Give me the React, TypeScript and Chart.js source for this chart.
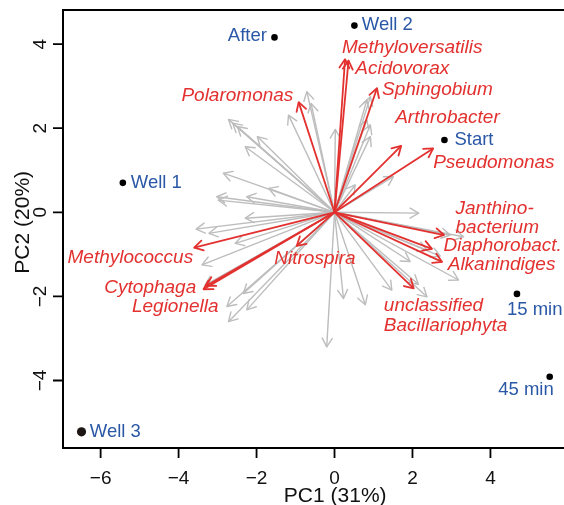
import React, { useEffect, useRef } from "react";
import { Chart, registerables } from "chart.js";

Chart.register(...registerables);

// ---- data ----
const sampleNames = ["After", "Well 2", "Start", "Well 1", "Well 3", "15 min", "45 min"];
const sampleX = [-1.54, 0.51, 2.82, -5.43, -6.49, 4.68, 5.52];
const sampleY = [4.16, 4.44, 1.72, 0.70, -5.22, -1.94, -3.91];

const taxaNames = [
  "Polaromonas",
  "Methyloversatilis",
  "Acidovorax",
  "Sphingobium",
  "Arthrobacter",
  "Pseudomonas",
  "Janthino-\nbacterium",
  "Diaphorobact.",
  "Alkanindiges",
  "unclassified\nBacillariophyta",
  "Nitrospira",
  "Methylococcus",
  "Cytophaga",
  "Legionella",
];
const taxaX = [-0.92, 0.27, 0.36, 1.09, 1.71, 2.53, 2.81, 2.50, 2.76, 2.03, -0.97, -3.60, -3.36, -3.29];
const taxaY = [2.62, 3.64, 3.61, 2.95, 1.58, 1.52, -0.54, -0.87, -1.18, -1.81, -0.80, -0.84, -1.83, -1.75];

const otherX = [
  -0.71, -0.60, -1.18, -2.72, -2.61, -2.49, -1.98, -2.29, -2.85, -1.69, -3.02, -2.98, -2.25, -3.55, -3.22,
  -2.29, -2.55, -3.40, -2.34, -2.76, -2.25, -2.72, -0.20, 0.23, 0.79, 1.47, 2.37, 3.18, 1.94, 2.37, 2.97,
  3.31, 2.16, 1.51, 0.92, 0.83, 0.83, 0.92, 0.92, 0.02, -3.32, 0.53, 2.15, 2.71,
];
const otherY = [
  2.87, 2.59, 2.31, 2.21, 2.12, 2.04, 1.80, 1.56, 0.93, 0.57, 0.37, 0.29, 0.37, -0.40, -0.50,
  -0.14, -0.74, -1.25, -1.93, -2.24, -2.32, -2.60, -3.20, -2.05, -2.20, -1.85, -2.01, -1.61, -1.17, -0.90, -0.54,
  -0.58, -0.02, 0.85, 2.75, 2.67, 2.20, 2.08, 1.80, 1.97, -1.73, 0.65, -1.71, -1.04,
];

const xTicks = [-6, -4, -2, 0, 2, 4];
const yTicks = [-4, -2, 0, 2, 4];
const xTitle = "PC1 (31%)";
const yTitle = "PC2 (20%)";

// ---- style / layout ----
const X_MIN = -6.965;
const X_MAX = 5.769;
const Y_MIN = -5.605;
const Y_MAX = 4.811;

const RED = "#E2312F";
const BLUE = "#2A58A6";
const GRAY = "#BDBDBD";
const FONT = '"Liberation Sans", Arial, Helvetica, sans-serif';

type LabelStyle = { align: CanvasTextAlign; dx: number; dy: number };

const sampleLabelStyle: Record<string, LabelStyle> = {
  "After": { align: "right", dx: -7.6, dy: -1 },
  "Well 2": { align: "left", dx: 7.4, dy: -0.7 },
  "Start": { align: "left", dx: 10, dy: 0 },
  "Well 1": { align: "left", dx: 8, dy: 0 },
  "Well 3": { align: "left", dx: 8.3, dy: 0 },
  "15 min": { align: "left", dx: -10, dy: 16 },
  "45 min": { align: "right", dx: 4, dy: 13.3 },
};

const taxaLabelStyle: Record<string, LabelStyle> = {
  "Polaromonas": { align: "right", dx: -5.3, dy: -6 },
  "Methyloversatilis": { align: "left", dx: -3, dy: -12 },
  "Acidovorax": { align: "left", dx: 6.7, dy: 8.5 },
  "Sphingobium": { align: "left", dx: 5, dy: 1.5 },
  "Arthrobacter": { align: "left", dx: -6, dy: -27.7 },
  "Pseudomonas": { align: "left", dx: 0, dy: 14.4 },
  "Janthino-\nbacterium": { align: "left", dx: 11.5, dy: -26.7 },
  "Diaphorobact.": { align: "left", dx: 11.6, dy: -3.5 },
  "Alkanindiges": { align: "left", dx: 5.6, dy: 2.3 },
  "unclassified\nBacillariophyta": { align: "left", dx: -29.8, dy: 17.7 },
  "Nitrospira": { align: "left", dx: -22.4, dy: 12.3 },
  "Methylococcus": { align: "right", dx: -1, dy: 10 },
  "Cytophaga": { align: "right", dx: -7.3, dy: -1.3 },
  "Legionella": { align: "right", dx: 12.3, dy: 20.7 },
};

const SAMPLE_FONT_SIZE = 18.5;
const TAXA_FONT_SIZE = 19;
const LINE_GAP = 19.5;

const biplotPlugin = {
  id: "biplot",
  afterDatasetDraw(chart: any, args: any) {
    const ds = chart.data.datasets[args.index];
    if (!ds.arrow) return;
    const pts = args.meta.data;
    if (!pts || pts.length < 2) return;
    const p0 = pts[0];
    const p1 = pts[1];
    const ang = Math.atan2(p1.y - p0.y, p1.x - p0.x);
    const len = 10;
    const spread = Math.PI / 6;
    const ctx = chart.ctx;
    ctx.save();
    ctx.strokeStyle = ds.borderColor;
    ctx.lineWidth = ds.borderWidth;
    ctx.lineCap = "round";
    ctx.lineJoin = "round";
    ctx.beginPath();
    ctx.moveTo(p1.x - len * Math.cos(ang - spread), p1.y - len * Math.sin(ang - spread));
    ctx.lineTo(p1.x, p1.y);
    ctx.lineTo(p1.x - len * Math.cos(ang + spread), p1.y - len * Math.sin(ang + spread));
    ctx.stroke();
    ctx.restore();
  },
  afterDraw(chart: any) {
    const ctx = chart.ctx as CanvasRenderingContext2D;
    const area = chart.chartArea;
    const xs = chart.scales.x;
    const ys = chart.scales.y;
    const W = chart.width;

    ctx.save();
    // frame (left, top, bottom)
    ctx.strokeStyle = "#000";
    ctx.lineWidth = 2;
    ctx.beginPath();
    ctx.moveTo(W + 2, area.top);
    ctx.lineTo(area.left, area.top);
    ctx.lineTo(area.left, area.bottom);
    ctx.lineTo(W + 2, area.bottom);
    ctx.stroke();

    // ticks
    ctx.lineWidth = 1.8;
    ctx.beginPath();
    xTicks.forEach((v) => {
      const px = xs.getPixelForValue(v);
      ctx.moveTo(px, area.bottom);
      ctx.lineTo(px, area.bottom + 10);
    });
    yTicks.forEach((v) => {
      const py = ys.getPixelForValue(v);
      ctx.moveTo(area.left, py);
      ctx.lineTo(area.left - 10, py);
    });
    ctx.stroke();

    // tick labels
    ctx.fillStyle = "#111";
    ctx.font = `19px ${FONT}`;
    ctx.textAlign = "center";
    ctx.textBaseline = "alphabetic";
    xTicks.forEach((v) => {
      const px = xs.getPixelForValue(v);
      ctx.fillText(v < 0 ? "\u2212" + Math.abs(v) : String(v), px, area.bottom + 35.5);
    });
    yTicks.forEach((v) => {
      const py = ys.getPixelForValue(v);
      ctx.save();
      ctx.translate(area.left - 17, py);
      ctx.rotate(-Math.PI / 2);
      ctx.fillText(v < 0 ? "\u2212" + Math.abs(v) : String(v), 0, 0);
      ctx.restore();
    });

    // axis titles
    ctx.font = `21px ${FONT}`;
    ctx.fillText(xTitle, xs.getPixelForValue(0) + 0.7, area.bottom + 53.5);
    ctx.save();
    ctx.translate(29, ys.getPixelForValue(0) + 10);
    ctx.rotate(-Math.PI / 2);
    ctx.fillText(yTitle, 0, 0);
    ctx.restore();

    // labels
    ctx.textBaseline = "middle";
    const drawLabel = (text: string, x: number, y: number, st: LabelStyle, color: string, italic: boolean) => {
      ctx.fillStyle = color;
      ctx.font = italic ? `italic ${TAXA_FONT_SIZE}px ${FONT}` : `${SAMPLE_FONT_SIZE}px ${FONT}`;
      ctx.textAlign = st.align;
      text.split("\n").forEach((line, i) => {
        ctx.fillText(line, x + st.dx, y + st.dy + i * LINE_GAP);
      });
    };

    chart.data.datasets.forEach((ds: any, i: number) => {
      const meta = chart.getDatasetMeta(i);
      if (ds.kind === "samples") {
        meta.data.forEach((pt: any, j: number) => {
          const name = sampleNames[j];
          drawLabel(name, pt.x, pt.y, sampleLabelStyle[name], BLUE, false);
        });
      } else if (ds.kind === "taxon") {
        const tip = meta.data[1];
        drawLabel(ds.label, tip.x, tip.y, taxaLabelStyle[ds.label], RED, true);
      }
    });
    ctx.restore();
  },
};

export default function App() {
  const ref = useRef<HTMLCanvasElement | null>(null);

  useEffect(() => {
    const canvas = ref.current;
    if (!canvas) return;

    const datasets: any[] = [];
    datasets.push({
      kind: "samples",
      label: "samples",
      data: sampleX.map((x, i) => ({ x, y: sampleY[i] })),
      pointRadius: (c: any) => (sampleNames[c.dataIndex] === "Well 3" ? 4.6 : 3.3),
      pointBackgroundColor: (c: any) => (sampleNames[c.dataIndex] === "Well 3" ? "#1c1714" : "#000"),
      pointBorderWidth: 0,
      showLine: false,
    });
    taxaNames.forEach((name, i) => {
      datasets.push({
        kind: "taxon",
        arrow: true,
        label: name,
        data: [
          { x: 0, y: 0 },
          { x: taxaX[i], y: taxaY[i] },
        ],
        showLine: true,
        borderColor: RED,
        borderWidth: 1.8,
        pointRadius: 0,
        fill: false,
      });
    });
    otherX.forEach((x, i) => {
      datasets.push({
        kind: "other",
        arrow: true,
        label: "other" + i,
        data: [
          { x: 0, y: 0 },
          { x, y: otherY[i] },
        ],
        showLine: true,
        borderColor: GRAY,
        borderWidth: 1.4,
        pointRadius: 0,
        fill: false,
      });
    });

    const chart = new Chart(canvas, {
      type: "scatter",
      data: { datasets },
      options: {
        responsive: false,
        animation: false,
        devicePixelRatio: 1,
        layout: { padding: { top: 10, right: 0, bottom: 0, left: 0 } },
        plugins: {
          legend: { display: false },
          tooltip: { enabled: false },
        },
        scales: {
          x: {
            type: "linear",
            min: X_MIN,
            max: X_MAX,
            grid: { display: false },
            border: { display: false },
            ticks: { display: false },
            afterFit: (s: any) => {
              s.height = 57;
            },
          },
          y: {
            type: "linear",
            min: Y_MIN,
            max: Y_MAX,
            grid: { display: false },
            border: { display: false },
            ticks: { display: false },
            afterFit: (s: any) => {
              s.width = 63;
            },
          },
        },
      } as any,
      plugins: [biplotPlugin as any],
    });

    return () => {
      chart.destroy();
    };
  }, []);

  return (
    <div style={{ position: "fixed", left: 0, top: 0, width: 564, height: 505, background: "#fff", overflow: "hidden" }}>
      <canvas ref={ref} width={564} height={505} style={{ display: "block" }} />
    </div>
  );
}
